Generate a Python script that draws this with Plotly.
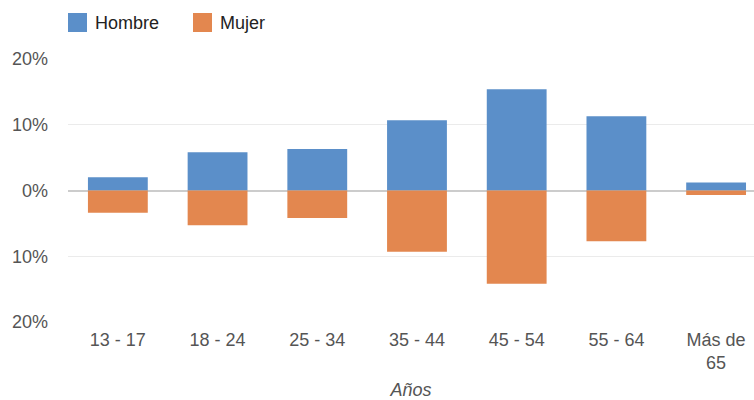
import plotly.graph_objects as go

# Age groups and share of audience (%) per gender
age_groups = ["13 - 17", "18 - 24", "25 - 34", "35 - 44", "45 - 54", "55 - 64", "Más de<br>65"]
hombre = [2.0, 5.8, 6.3, 10.7, 15.4, 11.3, 1.2]
mujer = [3.4, 5.3, 4.2, 9.3, 14.2, 7.7, 0.7]

y_tick_vals = [-20, -10, 0, 10, 20]
y_tick_text = ["20%", "10%", "0%", "10%", "20%"]

series_names = ["Hombre", "Mujer"]
BLUE = "#5b8fc9"
ORANGE = "#e3874f"
FONT = "Liberation Sans, Arial, Helvetica, sans-serif"
FS = 18

W, H = 754, 400
M_L, M_R, M_T, M_B = 68, 0, 59, 78
PLOT_W = W - M_L - M_R
PLOT_H = H - M_T - M_B


def px_x(px):
    return (px - M_L) / PLOT_W


def px_y(py):
    return (H - M_B - py) / PLOT_H


x_pos = list(range(len(age_groups)))

fig = go.Figure()
fig.add_trace(go.Bar(
    name=series_names[0], x=x_pos, y=hombre,
    marker=dict(color=BLUE, line=dict(width=0)),
))
fig.add_trace(go.Bar(
    name=series_names[1], x=x_pos, y=[-v for v in mujer],
    marker=dict(color=ORANGE, line=dict(width=0)),
))

# Legend drawn as square swatches with labels above the plot
legend_items = [(series_names[0], BLUE, 68), (series_names[1], ORANGE, 193)]
for name, color, left in legend_items:
    fig.add_shape(
        type="rect", xref="paper", yref="paper",
        x0=px_x(left), x1=px_x(left + 19), y0=px_y(32), y1=px_y(13),
        fillcolor=color, line=dict(width=0),
    )
    fig.add_annotation(
        xref="paper", yref="paper", x=px_x(left + 25), y=px_y(22.5),
        xanchor="left", yanchor="middle", showarrow=False,
        text=name, font=dict(size=FS, color="#222222", family=FONT),
    )

fig.update_layout(
    width=W, height=H,
    barmode="relative",
    bargap=0.4,
    plot_bgcolor="white", paper_bgcolor="white",
    margin=dict(l=M_L, r=M_R, t=M_T, b=M_B),
    font=dict(family=FONT, size=FS, color="#555555"),
    showlegend=False,
    xaxis=dict(
        tickmode="array", tickvals=x_pos, ticktext=age_groups,
        range=[-0.5, 6.38], showgrid=False, zeroline=False,
        showline=False, ticks="", ticklen=0, ticklabelstandoff=5,
        tickfont=dict(size=FS, color="#555555"),
        title=dict(text="<i>Años</i>", font=dict(size=FS, color="#555555"), standoff=12),
        fixedrange=True,
    ),
    yaxis=dict(
        range=[-20, 20], tickmode="array", tickvals=y_tick_vals, ticktext=y_tick_text,
        showgrid=True, gridcolor="#ebebeb", gridwidth=1,
        zeroline=True, zerolinecolor="#cccccc", zerolinewidth=2,
        showline=False, ticks="", ticklabelstandoff=19,
        tickfont=dict(size=FS, color="#555555"),
        fixedrange=True,
    ),
)

fig.write_html("out.html")
